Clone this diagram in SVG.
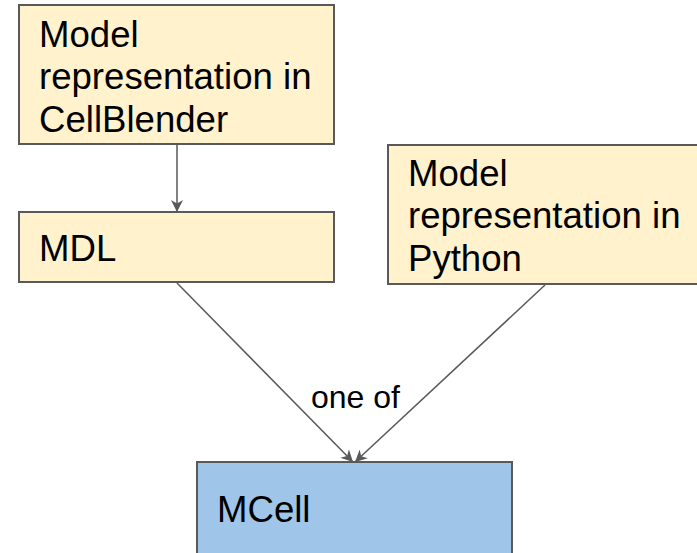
<svg xmlns="http://www.w3.org/2000/svg" width="697" height="553" viewBox="0 0 697 553">
<style>
.box{stroke:#595959;stroke-width:2}
.y{fill:#fff2cc}
.b{fill:#9fc5e8}
.t{font-family:"Liberation Sans",Arial,sans-serif;font-size:36.6px;fill:#000}
.lbl{font-family:"Liberation Sans",Arial,sans-serif;font-size:32px;fill:#000}
.c{stroke:#595959;stroke-width:1.5;fill:none}
</style>
<defs>
<marker id="ah" viewBox="0 0 10 10" refX="10" refY="5" markerWidth="12" markerHeight="12" markerUnits="userSpaceOnUse" orient="auto">
<path d="M0,0 L10,5 L0,10 L3,5 z" fill="#595959"/>
</marker>
</defs>
<g id="connectors">
<line class="c" x1="177" y1="144" x2="177" y2="212" marker-end="url(#ah)"/>
<line class="c" x1="177" y1="283" x2="353" y2="462" marker-end="url(#ah)"/>
<line class="c" x1="545" y1="285" x2="355" y2="462" marker-end="url(#ah)"/>
<text class="lbl" x="311" y="408">one of</text>
</g>
<g id="node-cellblender">
<rect class="box y" x="19" y="5" width="315" height="139"/>
<text class="t" x="39" y="47">Model</text>
<text class="t" x="39" y="89">representation in</text>
<text class="t" x="39" y="132">CellBlender</text>
</g>
<g id="node-mdl">
<rect class="box y" x="19" y="212" width="315" height="70"/>
<text class="t" x="39" y="261">MDL</text>
</g>
<g id="node-python">
<rect class="box y" x="388" y="145" width="320" height="139"/>
<text class="t" x="408" y="186">Model</text>
<text class="t" x="408" y="228">representation in</text>
<text class="t" x="408" y="271">Python</text>
</g>
<g id="node-mcell">
<rect class="box b" x="197" y="462" width="315" height="100"/>
<text class="t" x="217" y="522">MCell</text>
</g>
</svg>
